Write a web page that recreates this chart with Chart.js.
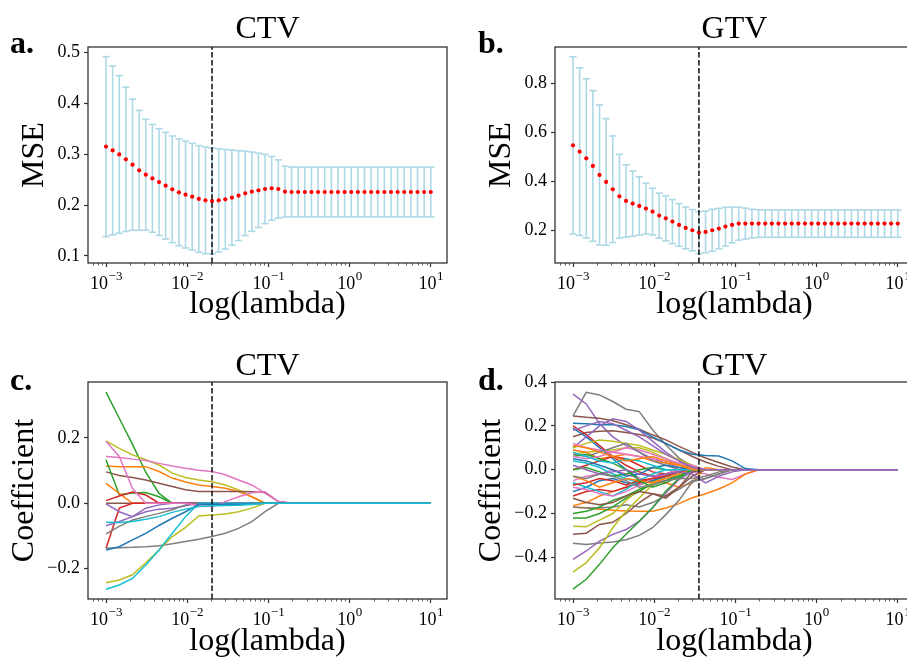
<!DOCTYPE html>
<html>
<head>
<meta charset="utf-8">
<script src="https://cdn.jsdelivr.net/npm/chart.js@4.4.0/dist/chart.umd.min.js"></script>
<style>
html, body { margin: 0; padding: 0; background: #fff; overflow: hidden; width: 907px; height: 664px; }
canvas { position: absolute; }
</style>
</head>
<body>
<canvas id="pa" width="467" height="332" style="left:0;top:0"></canvas>
<canvas id="pb" width="467" height="332" style="left:467px;top:0"></canvas>
<canvas id="pc" width="467" height="332" style="left:0;top:335px"></canvas>
<canvas id="pd" width="467" height="332" style="left:467px;top:335px"></canvas>
<script>
// lambda grid (50 values, 1e-3 .. 1e1)
var lambdas = [0.001, 0.0012068, 0.0014563, 0.0017575, 0.0021210, 0.0025595, 0.0030888, 0.0037276, 0.0044984, 0.0054287,
  0.0065513, 0.0079060, 0.0095410, 0.011514, 0.013895, 0.016768, 0.020236, 0.024421, 0.029471, 0.035565,
  0.042919, 0.051795, 0.062506, 0.075431, 0.091030, 0.10985, 0.13257, 0.15999, 0.19307, 0.23300,
  0.28118, 0.33932, 0.40949, 0.49417, 0.59636, 0.71969, 0.86851, 1.0481, 1.2649, 1.5264,
  1.8421, 2.2230, 2.6827, 3.2375, 3.9069, 4.7149, 5.6899, 6.8665, 8.2864, 10.0];

var xMajor = [0.001, 0.01, 0.1, 1, 10];
var xExponents = ['\u22123', '\u22122', '\u22121', '0', '1'];
var xMinor = [0.0007, 0.0008, 0.0009, 0.002, 0.003, 0.004, 0.005, 0.006, 0.007, 0.008, 0.009,
  0.02, 0.03, 0.04, 0.05, 0.06, 0.07, 0.08, 0.09, 0.2, 0.3, 0.4, 0.5, 0.6, 0.7, 0.8, 0.9,
  2, 3, 4, 5, 6, 7, 8, 9];

// panel a: CTV cross-validation
var mseCtv = [0.315, 0.3075, 0.2997, 0.290, 0.2794, 0.2683, 0.2598, 0.2525, 0.2453, 0.2381,
  0.2309, 0.225, 0.2205, 0.2165, 0.212, 0.2093, 0.208, 0.2093, 0.2113, 0.2146,
  0.2185, 0.223, 0.2264, 0.229, 0.2316, 0.233, 0.2316, 0.2264, 0.2257, 0.2257,
  0.2257, 0.2257, 0.2257, 0.2257, 0.2257, 0.2257, 0.2257, 0.2257, 0.2257, 0.2257,
  0.2257, 0.2257, 0.2257, 0.2257, 0.2257, 0.2257, 0.2257, 0.2257, 0.2257, 0.2257];
var stdCtv = [0.177, 0.166, 0.155, 0.142, 0.129, 0.118, 0.109, 0.106, 0.105, 0.105,
  0.105, 0.105, 0.105, 0.105, 0.105, 0.105, 0.104, 0.1015, 0.098, 0.0936,
  0.0884, 0.083, 0.078, 0.073, 0.068, 0.0626, 0.0573, 0.050, 0.049, 0.049,
  0.049, 0.049, 0.049, 0.049, 0.049, 0.049, 0.049, 0.049, 0.049, 0.049,
  0.049, 0.049, 0.049, 0.049, 0.049, 0.049, 0.049, 0.049, 0.049, 0.049];
var bestCtv = 16;
var yTicksA = [0.1, 0.2, 0.3, 0.4, 0.5];

// panel b: GTV cross-validation
var mseGtv = [0.5475, 0.5217, 0.4946, 0.4633, 0.4267, 0.3982, 0.3683, 0.3398, 0.3208, 0.31,
  0.3005, 0.2896, 0.2774, 0.2611, 0.2502, 0.2367, 0.2231, 0.2109, 0.2014, 0.1919,
  0.1946, 0.2014, 0.2081, 0.2163, 0.2231, 0.2285, 0.2285, 0.2285, 0.2285, 0.2285,
  0.2285, 0.2285, 0.2285, 0.2285, 0.2285, 0.2285, 0.2285, 0.2285, 0.2285, 0.2285,
  0.2285, 0.2285, 0.2285, 0.2285, 0.2285, 0.2285, 0.2285, 0.2285, 0.2285, 0.2285];
var stdGtv = [0.361, 0.3415, 0.3238, 0.3068, 0.2851, 0.258, 0.2172, 0.171, 0.1473, 0.133,
  0.1188, 0.1032, 0.095, 0.0916, 0.0917, 0.0896, 0.0869, 0.0849, 0.0842, 0.0855,
  0.0849, 0.0856, 0.0822, 0.0788, 0.0727, 0.0672, 0.0631, 0.0584, 0.0563, 0.0557,
  0.0557, 0.0557, 0.0557, 0.0557, 0.0557, 0.0557, 0.0557, 0.0557, 0.0557, 0.0557,
  0.0557, 0.0557, 0.0557, 0.0557, 0.0557, 0.0557, 0.0557, 0.0557, 0.0557, 0.0557];
var bestGtv = 19;
var yTicksB = [0.2, 0.4, 0.6, 0.8];

// coefficient paths are read at these lambda indices
var pathIdx = [0, 2, 4, 6, 8, 10, 12, 14, 16, 18, 20, 22, 24, 26, 28, 49];

// panel c: CTV coefficient paths
var ctvPaths = [
  [0, 0, 0, 0, 0, 0, 0, 0, 0, 0, 0, 0, 0, 0, 0, 0],
  [0.34, 0.26, 0.18, 0.095, 0.03, 0, 0, 0, 0, 0, 0, 0, 0, 0, 0, 0],
  [0.191, 0.168, 0.148, 0.133, 0.117, 0.092, 0.079, 0.071, 0.066, 0.056, 0.041, 0.02, 0, 0, 0, 0],
  [0.143, 0.14, 0.135, 0.131, 0.122, 0.114, 0.107, 0.101, 0.097, 0.087, 0.071, 0.056, 0.031, 0.005, 0, 0],
  [0.114, 0.112, 0.112, 0.112, 0.097, 0.077, 0.065, 0.056, 0.051, 0.046, 0.036, 0.02, 0, 0, 0, 0],
  [0.096, 0.085, 0.079, 0.071, 0.061, 0.051, 0.041, 0.036, 0.036, 0.036, 0.036, 0.035, 0.033, 0.005, 0, 0],
  [0.133, 0.026, 0.031, 0.033, 0.02, 0, 0, 0, 0, 0, 0, 0, 0, 0, 0, 0],
  [0.061, 0.03, 0, 0, 0, 0, 0, 0, 0, 0, 0, 0, 0, 0, 0, 0],
  [0.008, 0.022, 0.034, 0.025, 0, 0, 0, 0, 0, 0, 0, 0, 0, 0, 0, 0],
  [-0.138, -0.015, 0, 0, 0, 0, 0, 0, 0, 0, 0, 0, 0, 0, 0, 0],
  [-0.002, -0.026, -0.041, -0.015, -0.005, 0, 0, 0, 0, 0, 0, 0, 0, 0, 0, 0],
  [-0.069, -0.056, -0.041, -0.026, -0.018, -0.015, -0.008, 0, 0, 0, 0, 0, 0, 0, 0, 0],
  [-0.094, -0.071, -0.051, -0.041, -0.031, -0.02, -0.005, 0, 0, 0, 0, 0, 0, 0, 0, 0],
  [-0.138, -0.136, -0.135, -0.133, -0.13, -0.124, -0.117, -0.11, -0.102, -0.092, -0.077, -0.056, -0.026, 0, 0, 0],
  [-0.243, -0.235, -0.219, -0.182, -0.143, -0.102, -0.074, -0.039, -0.036, -0.033, -0.026, -0.015, 0, 0, 0, 0],
  [-0.263, -0.25, -0.23, -0.189, -0.143, -0.092, -0.041, 0, 0, 0, 0, 0, 0, 0, 0, 0],
  [0.19, 0.143, 0.045, 0, 0, 0, 0, -0.008, -0.01, 0.005, 0.02, 0.032, 0.035, 0.005, 0, 0],
  [-0.143, -0.133, -0.112, -0.092, -0.068, -0.046, -0.026, -0.003, -0.003, -0.003, -0.003, -0.002, 0, 0, 0, 0],
  [-0.058, -0.059, -0.056, -0.049, -0.041, -0.028, -0.018, -0.01, -0.008, -0.007, -0.006, -0.004, 0, 0, 0, 0]
];
var ctvColors = ['#8c564b', '#2ca02c', '#bcbd22', '#e377c2', '#ff7f0e', '#8c564b', '#2ca02c', '#ff7f0e', '#d62728', '#d62728',
  '#9467bd', '#9467bd', '#7f7f7f', '#7f7f7f', '#bcbd22', '#17becf', '#e377c2', '#1f77b4', '#17becf'];
var yTicksC = [-0.2, 0, 0.2];

// panel d: GTV coefficient paths
var gtvPaths = [
  [0.245, 0.353, 0.341, 0.311, 0.276, 0.265, 0.182, 0.114, 0.053, 0.015, 0, 0, 0, 0, 0, 0],
  [0.345, 0.30, 0.21, 0.15, 0.11, 0.08, 0.05, 0.03, 0.01, 0, 0, 0, 0, 0, 0, 0],
  [0.245, 0.239, 0.235, 0.223, 0.205, 0.185, 0.159, 0.136, 0.106, 0.079, 0.053, 0.033, 0.012, 0, 0, 0],
  [0.15, 0.17, 0.175, 0.178, 0.17, 0.16, 0.145, 0.12, 0.09, 0.06, 0.035, 0.015, 0, 0, 0, 0],
  [0.212, 0.209, 0.205, 0.205, 0.197, 0.182, 0.15, 0.12, 0.09, 0.07, 0.065, 0.062, 0.04, 0.005, 0, 0],
  [0.2, 0.16, 0.11, 0.06, 0.02, -0.01, -0.03, -0.02, -0.01, 0, 0, 0, 0, 0, 0, 0],
  [0.19, 0.15, 0.10, 0.05, 0, -0.04, -0.06, -0.05, -0.03, -0.01, 0, 0, 0, 0, 0, 0],
  [0.10, 0.15, 0.2, 0.232, 0.22, 0.18, 0.13, 0.08, 0.04, 0.01, 0, 0, 0, 0, 0, 0],
  [0.10, 0.12, 0.135, 0.13, 0.12, 0.11, 0.09, 0.07, 0.045, 0.02, 0, 0, 0, 0, 0, 0],
  [0.07, 0.08, 0.085, 0.09, 0.10, 0.10, 0.08, 0.05, 0.025, 0, 0, 0, 0, 0, 0, 0],
  [0.12, 0.10, 0.09, 0.08, 0.1, 0.09, 0.07, 0.05, 0.03, 0.01, 0, 0, 0, 0, 0, 0],
  [-0.05, -0.03, -0.02, 0, -0.02, -0.04, -0.05, -0.02, 0, -0.01, -0.02, -0.035, -0.045, -0.02, 0, 0],
  [0.09, 0.08, 0.05, 0.06, 0.07, 0.06, 0.04, 0.03, 0.02, 0.01, 0, 0, 0, 0, 0, 0],
  [0, 0.02, 0.04, 0.06, 0.05, 0.02, -0.01, -0.02, -0.01, 0, 0, 0, 0, 0, 0, 0],
  [0.04, 0.03, 0.01, -0.02, -0.04, -0.06, -0.05, -0.03, -0.01, 0, 0, 0, 0, 0, 0, 0],
  [0, 0.01, -0.01, -0.03, -0.02, 0, 0.01, 0, 0, 0, 0, 0, 0, 0, 0, 0],
  [0.07, 0.06, 0.08, 0.10, 0.12, 0.08, 0.04, 0.02, 0, 0, 0, 0, 0, 0, 0, 0],
  [-0.171, -0.174, -0.18, -0.185, -0.189, -0.19, -0.19, -0.175, -0.155, -0.128, -0.11, -0.088, -0.06, -0.02, 0, 0],
  [-0.164, -0.15, -0.12, -0.10, -0.08, -0.06, -0.05, -0.06, -0.08, -0.06, 0.01, 0, 0, 0, 0, 0],
  [-0.17, -0.175, -0.175, -0.17, -0.16, -0.17, -0.15, -0.12, -0.09, -0.05, -0.04, -0.02, 0, 0, 0, 0],
  [-0.22, -0.22, -0.2, -0.17, -0.13, -0.1, -0.06, -0.03, -0.01, 0, 0, 0, 0, 0, 0, 0],
  [-0.258, -0.26, -0.23, -0.2, -0.14, -0.09, -0.06, -0.03, -0.01, 0, 0, 0, 0, 0, 0, 0],
  [-0.295, -0.29, -0.25, -0.24, -0.2, -0.15, -0.11, -0.12, -0.08, -0.03, 0, 0, 0, 0, 0, 0],
  [-0.336, -0.341, -0.335, -0.33, -0.32, -0.30, -0.265, -0.205, -0.14, -0.055, -0.04, -0.02, 0, 0, 0, 0],
  [-0.409, -0.371, -0.326, -0.295, -0.273, -0.235, -0.174, -0.106, -0.045, -0.008, 0, 0, 0, 0, 0, 0],
  [-0.467, -0.424, -0.356, -0.265, -0.189, -0.129, -0.068, -0.023, 0, 0, 0, 0, 0, 0, 0, 0],
  [-0.545, -0.5, -0.432, -0.356, -0.295, -0.235, -0.174, -0.098, -0.038, 0, 0, 0, 0, 0, 0, 0],
  [-0.2, -0.19, -0.17, -0.14, -0.12, -0.09, -0.07, -0.05, -0.02, 0, 0, 0, 0, 0, 0, 0],
  [-0.12, -0.1, -0.09, -0.1, -0.08, -0.06, -0.04, -0.02, 0, 0, 0, 0, 0, 0, 0, 0],
  [-0.10, -0.08, -0.05, -0.04, -0.06, -0.07, -0.05, -0.03, -0.01, 0, 0, 0, 0, 0, 0, 0],
  [-0.13, -0.15, -0.16, -0.15, -0.12, -0.1, -0.11, -0.13, -0.08, -0.01, 0, 0, 0, 0, 0, 0],
  [-0.06, -0.08, -0.1, -0.12, -0.09, -0.05, -0.02, 0, 0, 0, 0, 0, 0, 0, 0, 0],
  [-0.08, -0.09, -0.11, -0.12, -0.1, -0.07, -0.04, -0.02, 0, 0, 0, 0, 0, 0, 0, 0],
  [-0.07, -0.06, -0.04, -0.05, -0.07, -0.05, -0.04, -0.03, -0.01, 0, 0, 0, 0, 0, 0, 0],
  [0.05, 0.04, 0.02, 0, -0.03, -0.02, 0.01, 0.02, 0.01, 0, 0, 0, 0, 0, 0, 0],
  [-0.03, -0.05, -0.08, -0.06, -0.04, -0.05, -0.06, -0.04, -0.02, 0, 0, 0, 0, 0, 0, 0],
  [0.06, 0.07, 0.05, 0.03, 0, -0.05, -0.08, -0.06, -0.03, 0, 0, 0, 0, 0, 0, 0],
  [-0.03, -0.04, -0.02, -0.03, -0.05, -0.08, -0.07, -0.05, -0.04, -0.04, -0.03, -0.01, 0, 0, 0, 0],
  [0.06, 0.05, 0.06, 0.08, 0.07, 0.06, 0.05, 0.04, 0.03, 0.02, 0, 0, 0, 0, 0, 0],
  [0.08, 0.06, 0.04, 0.03, 0.05, 0.04, 0.02, 0, 0, 0, 0, 0, 0, 0, 0, 0],
  [0.11, 0.1, 0.08, 0.06, 0.04, 0.05, 0.06, 0.04, 0.02, 0, 0, 0, 0, 0, 0, 0],
  [0.18, 0.2, 0.22, 0.21, 0.18, 0.15, 0.11, 0.07, 0.04, 0.01, 0, 0, 0, 0, 0, 0],
  [0.02, 0, -0.02, -0.01, 0, -0.02, -0.03, -0.02, -0.01, -0.02, -0.06, -0.03, -0.01, 0, 0, 0]
];
var gtvColors = ['#7f7f7f', '#9467bd', '#8c564b', '#8c564b', '#1f77b4', '#d62728', '#1f77b4', '#9467bd', '#bcbd22', '#bcbd22',
  '#e377c2', '#e377c2', '#ff7f0e', '#d62728', '#17becf', '#2ca02c', '#7f7f7f', '#ff7f0e', '#ff7f0e', '#7f7f7f',
  '#2ca02c', '#bcbd22', '#8c564b', '#7f7f7f', '#9467bd', '#bcbd22', '#2ca02c', '#2ca02c', '#d62728', '#1f77b4',
  '#8c564b', '#17becf', '#e377c2', '#d62728', '#1f77b4', '#ff7f0e', '#2ca02c', '#7f7f7f', '#e377c2', '#17becf',
  '#ff7f0e', '#9467bd', '#9467bd'];
var yTicksD = [-0.4, -0.2, 0, 0.2, 0.4];

var SERIF = '"Liberation Serif", "Times New Roman", serif';
var FRAME = '#333';

// frame, x tick labels with exponents, panel title and panel letter
var decor = {
  id: 'decor',
  afterDraw: function(chart, args, o) {
    var ctx = chart.ctx, a = chart.chartArea, xs = chart.scales.x;
    ctx.save();
    ctx.strokeStyle = FRAME;
    ctx.lineWidth = 1.3;
    ctx.strokeRect(a.left, a.top, a.right - a.left, a.bottom - a.top);
    ctx.fillStyle = '#000';
    ctx.textBaseline = 'alphabetic';
    ctx.textAlign = 'left';
    xMajor.forEach(function(v, i) {
      var px = xs.getPixelForValue(v);
      ctx.font = '18px ' + SERIF;
      var wb = ctx.measureText('10').width;
      ctx.font = '13px ' + SERIF;
      var we = ctx.measureText(xExponents[i]).width;
      var x0 = px - (wb + we) / 2;
      ctx.font = '18px ' + SERIF;
      ctx.fillText('10', x0, a.bottom + 26);
      ctx.font = '13px ' + SERIF;
      ctx.fillText(xExponents[i], x0 + wb + 0.5, a.bottom + 17);
    });
    ctx.font = '32px ' + SERIF;
    ctx.textAlign = 'center';
    ctx.fillText(o.title, (a.left + a.right) / 2, o.titleY);
    ctx.font = 'bold 32px ' + SERIF;
    ctx.textAlign = 'left';
    ctx.fillText(o.letter, o.letterX, o.letterY);
    ctx.restore();
  }
};

function fmtY(v) {
  var s = v.toFixed(1);
  return v < 0 ? '\u2212' + s.slice(1) : s;
}

function makePanel(id, cfg) {
  var H = 332;
  return new Chart(document.getElementById(id), {
    type: 'line',
    data: { datasets: cfg.datasets },
    plugins: [decor],
    options: {
      responsive: false,
      animation: false,
      layout: { padding: { top: cfg.plotTop, right: 20, left: 0, bottom: 0 } },
      plugins: {
        legend: { display: false },
        tooltip: { enabled: false },
        decor: { title: cfg.title, titleY: cfg.titleY, letter: cfg.letter, letterX: cfg.letterX, letterY: cfg.letterY }
      },
      scales: {
        xm: {
          type: 'logarithmic', position: 'bottom', weight: -1,
          min: Math.pow(10, -3.2), max: Math.pow(10, 1.2),
          afterBuildTicks: function(s) { s.ticks = xMinor.map(function(v) { return { value: v }; }); },
          afterFit: function(s) { s.height = 0; },
          ticks: { display: false },
          border: { display: false },
          grid: { drawOnChartArea: false, drawTicks: true, tickLength: 2.5, tickColor: FRAME, tickWidth: 0.8 }
        },
        x: {
          type: 'logarithmic', position: 'bottom',
          min: Math.pow(10, -3.2), max: Math.pow(10, 1.2),
          afterBuildTicks: function(s) { s.ticks = xMajor.map(function(v) { return { value: v }; }); },
          afterFit: function(s) { s.height = H - cfg.plotBottom; },
          border: { display: false },
          grid: { drawOnChartArea: false, drawTicks: true, tickLength: 4, tickColor: FRAME, tickWidth: 1.2 },
          ticks: { display: false },
          title: {
            display: true, text: 'log(lambda)', color: '#000',
            font: { family: SERIF, size: 32, lineHeight: 1.2 },
            padding: { top: 0, bottom: cfg.xTitlePad }
          }
        },
        y: {
          min: cfg.yMin, max: cfg.yMax,
          afterBuildTicks: function(s) { s.ticks = cfg.yTicks.map(function(v) { return { value: v }; }); },
          afterFit: function(s) { s.width = 88; },
          border: { display: false },
          grid: { drawOnChartArea: false, drawTicks: true, tickLength: 4, tickColor: FRAME, tickWidth: 1.2 },
          ticks: {
            padding: 4, color: '#000',
            font: { family: SERIF, size: 18 },
            callback: function(v) { return fmtY(v); }
          },
          title: {
            display: true, text: cfg.yTitle, color: '#000',
            font: { family: SERIF, size: 32, lineHeight: 1.2 },
            padding: { top: cfg.yTitlePad, bottom: 0 }
          }
        }
      }
    }
  });
}

function cvLine(best, yMin, yMax) {
  return {
    data: [{ x: lambdas[best], y: yMin }, { x: lambdas[best], y: yMax }],
    borderColor: '#111', borderWidth: 1.5, borderDash: [5.5, 2.4],
    pointRadius: 0, order: -1000
  };
}

function errorSets(mean, std) {
  var stems = [], caps = [], dots = [];
  lambdas.forEach(function(x, i) {
    var lo = mean[i] - std[i], hi = mean[i] + std[i];
    stems.push({ x: x, y: lo }, { x: x, y: hi }, { x: x, y: null });
    caps.push({ x: x, y: lo }, { x: x, y: hi });
    dots.push({ x: x, y: mean[i] });
  });
  return [
    { data: stems, borderColor: '#add8e6', borderWidth: 1.6, pointRadius: 0, spanGaps: false, order: 3 },
    { data: caps, showLine: false, pointStyle: 'line', pointRadius: 3.6, borderColor: '#add8e6',
      pointBorderWidth: 1.6, pointBorderColor: '#add8e6', order: 2 },
    { data: dots, showLine: false, pointRadius: 2.1, pointBackgroundColor: '#ff0000',
      pointBorderColor: '#ff0000', pointBorderWidth: 0, order: 1 }
  ];
}

function pathSets(paths, colors) {
  return paths.map(function(vals, i) {
    return {
      data: pathIdx.map(function(li, k) { return { x: lambdas[li], y: vals[k] }; }),
      borderColor: colors[i], borderWidth: 1.5, pointRadius: 0, tension: 0, order: -i
    };
  });
}

makePanel('pa', {
  datasets: errorSets(mseCtv, stdCtv).concat([cvLine(bestCtv, 0.086, 0.511)]),
  yMin: 0.086, yMax: 0.511, yTicks: yTicksA, yTitle: 'MSE',
  plotTop: 47, plotBottom: 263, title: 'CTV', titleY: 38, letter: 'a.', letterX: 10, letterY: 53,
  xTitlePad: 8, yTitlePad: 15
});

makePanel('pb', {
  datasets: errorSets(mseGtv, stdGtv).concat([cvLine(bestGtv, 0.068, 0.948)]),
  yMin: 0.068, yMax: 0.948, yTicks: yTicksB, yTitle: 'MSE',
  plotTop: 47, plotBottom: 263, title: 'GTV', titleY: 38, letter: 'b.', letterX: 11, letterY: 53,
  xTitlePad: 8, yTitlePad: 15
});

makePanel('pc', {
  datasets: pathSets(ctvPaths, ctvColors).concat([cvLine(bestCtv, -0.293, 0.371)]),
  yMin: -0.293, yMax: 0.371, yTicks: yTicksC, yTitle: 'Coefficient',
  plotTop: 47, plotBottom: 264, title: 'CTV', titleY: 40, letter: 'c.', letterX: 10, letterY: 55,
  xTitlePad: 6, yTitlePad: 5
});

makePanel('pd', {
  datasets: pathSets(gtvPaths, gtvColors).concat([cvLine(bestGtv, -0.59, 0.40)]),
  yMin: -0.59, yMax: 0.40, yTicks: yTicksD, yTitle: 'Coefficient',
  plotTop: 47, plotBottom: 264, title: 'GTV', titleY: 40, letter: 'd.', letterX: 11, letterY: 55,
  xTitlePad: 6, yTitlePad: 5
});
</script>
</body>
</html>
